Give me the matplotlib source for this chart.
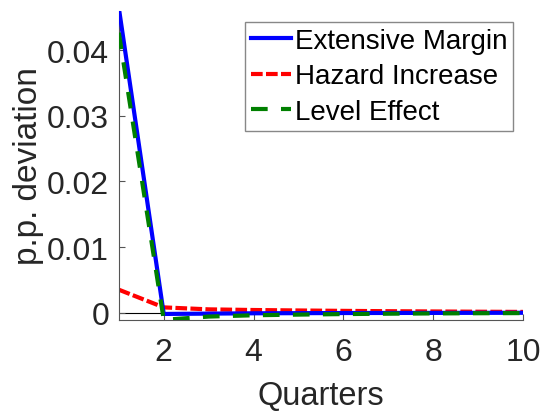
import numpy as np
import matplotlib
matplotlib.use("Agg")
import matplotlib.pyplot as plt

plt.rcParams['font.family'] = ['Liberation Sans', 'DejaVu Sans']

# ---------------- DATA ----------------
quarters = [1, 2, 3, 4, 5, 6, 7, 8, 9, 10]
extensive_margin = [0.0465, -0.0002, -0.00015, -0.0001, -0.00008, -0.00006, -0.00005, -0.00004, -0.00003, -0.00002]
hazard_increase = [0.0035, 0.0008, 0.0005, 0.0004, 0.00033, 0.00027, 0.00022, 0.00018, 0.00014, 0.00011]
level_effect = [0.0427, -0.0011, -0.0006, -0.0004, -0.0003, -0.00022, -0.00016, -0.00012, -0.00009, -0.00007]

# ---------------- PLOT ----------------
fig = plt.figure(figsize=(5.45, 4.14), dpi=100)
ax = fig.add_axes([0.218, 0.225, 0.742, 0.746])

ax.axhline(0, color='black', lw=0.8, zorder=1)
ax.plot(quarters, extensive_margin, color='blue', lw=3, ls='-', label='Extensive Margin', zorder=3)
ax.plot(quarters, hazard_increase, color='red', lw=3, ls=(0, (2.8, 0.8)), label='Hazard Increase', zorder=2)
ax.plot(quarters, level_effect, color='green', lw=3, ls=(0, (4, 3.2)), label='Level Effect', zorder=4)

ax.set_xlim(1, 10)
ax.set_ylim(-0.0011, 0.046)
ax.set_xticks([2, 4, 6, 8, 10])
ax.set_yticks([0, 0.01, 0.02, 0.03, 0.04])
ax.set_yticklabels(['0', '0.01', '0.02', '0.03', '0.04'])

for s in ['top', 'right']:
    ax.spines[s].set_visible(False)
for s in ['left', 'bottom']:
    ax.spines[s].set_color('#555555')
    ax.spines[s].set_linewidth(0.8)
ax.tick_params(direction='in', length=4, color='#555555', labelsize=23)
ax.tick_params(axis='x', pad=12)
ax.tick_params(axis='y', pad=7)

ax.set_xlabel('Quarters', fontsize=23.5, color='#262626', labelpad=10)
ax.set_ylabel('p.p. deviation', fontsize=24, color='#262626', labelpad=2)
for lbl in ax.get_xticklabels() + ax.get_yticklabels():
    lbl.set_color('#262626')

leg = ax.legend(loc='upper right', bbox_to_anchor=(513 / 545, 1 - 23 / 414),
                bbox_transform=fig.transFigure, fontsize=20,
                handlelength=1.45, handletextpad=0.15, borderpad=0.2,
                labelspacing=0.35, fancybox=False, framealpha=1, borderaxespad=0)
leg.get_frame().set_edgecolor('#888888')
leg.get_frame().set_linewidth(1.0)

plt.savefig('out.png', dpi=100)
